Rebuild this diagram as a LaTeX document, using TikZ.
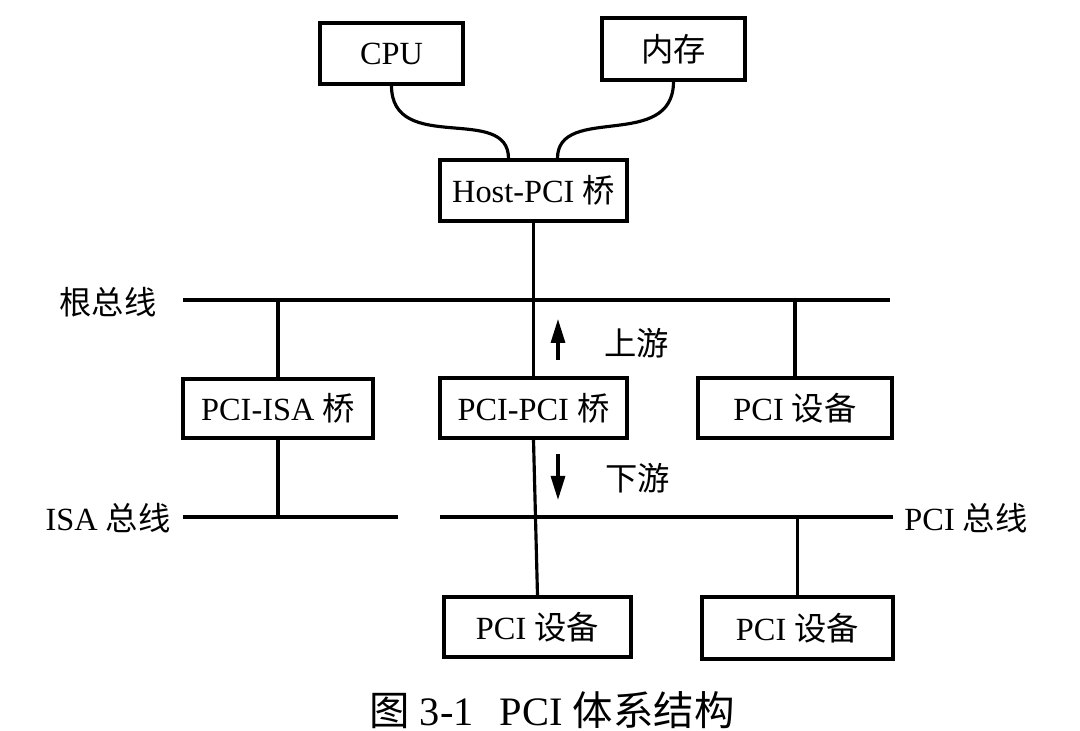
\documentclass[tikz,border=0pt]{standalone}
\usepackage{fontspec}
\setmainfont{Liberation Serif}
\newfontfamily\cjk{Noto Sans CJK SC}
\newcommand{\zh}[1]{{\cjk #1}}
\usepackage{tikz}
\usetikzlibrary{arrows.meta, calc}

\begin{document}
\begin{tikzpicture}[x=0.1mm, y=-0.1mm, line width=0.9pt, >={Triangle[length=2.4mm, width=1.4mm]},
    font=\fontsize{9.2}{11}\selectfont,
    box/.style={draw, line width=0.9pt, inner sep=0pt, minimum width=18.7mm, minimum height=6.1mm, align=center},
    lbl/.style={inner sep=0pt}]
    \useasboundingbox (0,0) rectangle (1080,731);
    % boxes
    \node[box, minimum width=14.3mm] (cpu) at (391.5,53.5) {CPU};
    \node[box, minimum width=14.3mm, minimum height=6.2mm] (mem) at (673.5,49) {\zh{内存}};
    \node[box] (host) at (533.5,190.5) {Host-PCI \zh{桥}};
    \node[box, minimum width=19mm, minimum height=5.9mm] (isab) at (278,408.5) {PCI-ISA \zh{桥}};
    \node[box, minimum height=6mm] (ppb) at (533.5,408) {PCI-PCI \zh{桥}};
    \node[box, minimum width=19.4mm, minimum height=6mm] (dev1) at (795,408) {PCI \zh{设备}};
    \node[box, minimum height=6mm] (dev2) at (537.5,627) {PCI \zh{设备}};
    \node[box, minimum width=19.1mm, minimum height=6.2mm] (dev3) at (797.5,628) {PCI \zh{设备}};

    % buses
    \coordinate (rootL) at (183,300);
    \coordinate (rootR) at (890,300);
    \coordinate (isaL) at (183,517);
    \coordinate (isaR) at (398,517);
    \coordinate (pciL) at (440,517);
    \coordinate (pciR) at (893,517);
    \node[lbl] (rootlbl) at (108,302) {\zh{根总线}};
    \node[lbl] (isalbl) at (108,518) {ISA \zh{总线}};
    \node[lbl] (pcilbl) at (966,518) {PCI \zh{总线}};
    \draw (rootL) -- (rootR);
    \draw (isaL) -- (isaR);
    \draw (pciL) -- (pciR);

    % links
    \draw (cpu.south) .. controls +(0,70) and +(0,-55) .. ($(host.north)+(-25,0)$);
    \draw (mem.south) .. controls +(0,70) and +(0,-55) .. ($(host.north)+(24,0)$);
    \draw (host.south) -- (ppb.north);
    \draw (isab.north) -- (isab.north |- rootL);
    \draw (isab.south) -- (isab.south |- isaL);
    \draw (dev1.north) -- (dev1.north |- rootL);
    \draw (ppb.south) -- (dev2.north);
    \draw (dev3.north) -- (dev3.north |- pciL);

    % upstream / downstream
    \node[lbl] (up) at (637,343) {\zh{上游}};
    \node[lbl] (down) at (638,478) {\zh{下游}};
    \coordinate (upA) at (558,360);
    \coordinate (upB) at (558,319);
    \coordinate (downA) at (558,454);
    \coordinate (downB) at (558,500);
    \draw[->] (upA) -- (upB);
    \draw[->] (downA) -- (downB);

    \node[lbl, font=\fontsize{11.5}{13}\selectfont] (cap) at (552,710) {\zh{图} 3-1\hspace{2.6mm}PCI \zh{体系结构}};
\end{tikzpicture}
\end{document}
